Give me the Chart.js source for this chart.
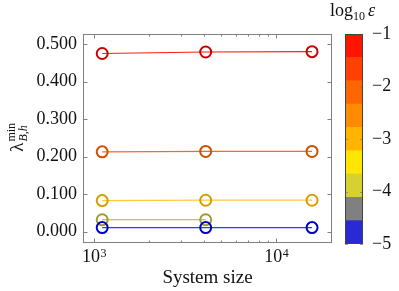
<!DOCTYPE html>
<html>
<head>
<meta charset="utf-8">
<script src="https://cdn.jsdelivr.net/npm/chart.js@4.4.1/dist/chart.umd.min.js"></script>
<style>
body { margin: 0; background: #fff; }
#wrap { position: relative; width: 399px; height: 291px; }
canvas { position: absolute; top: 0; }
</style>
</head>
<body>
<div id="wrap">
  <canvas id="main" width="399" height="291" style="left:0"></canvas>
  <canvas id="cbar" width="73" height="291" style="left:326px"></canvas>
</div>
<script>
// data
const systemSizes = [1110, 4100, 15700];
const lambdaEps1 = [0.475, 0.479, 0.480];
const lambdaEps2 = [0.213, 0.214, 0.214];
const lambdaEps3 = [0.083, 0.084, 0.084];
const lambdaEps4 = [0.032, 0.032];
const lambdaEps5 = [0.011, 0.011, 0.011];

const lineColors = ['#ff1a1a', '#ff6a1a', '#ffc840', '#b4ae2c', '#2a3cff'];
const markColors = ['#cc0000', '#d05000', '#d4a000', '#a09a28', '#0000cc'];

const yTicks = [0, 0.1, 0.2, 0.3, 0.4, 0.5];
const xTickValues = [1000, 10000];
const xTickExps = [3, 4];
const xMinorTicks = [2000, 3000, 4000, 5000, 6000, 7000, 8000, 9000, 20000];

const cbTicks = [-1, -2, -3, -4, -5];
const cbColors = ['#2a2ad4', '#808080', '#d6d030', '#ffe600', '#ffb400', '#ff8c00', '#ff6600', '#ff4000', '#ff1400'];

const FONT = '"Liberation Serif", "Times New Roman", serif';

function toPoints(vals) {
    return vals.map((v, i) => ({ x: systemSizes[i], y: v }));
}

const series = [lambdaEps1, lambdaEps2, lambdaEps3, lambdaEps4, lambdaEps5];

const frame = {
    id: 'frame',
    afterDraw(chart) {
        const { ctx, chartArea: a, scales: { x, y } } = chart;
        ctx.save();
        ctx.strokeStyle = '#808080';
        ctx.lineWidth = 1;
        ctx.strokeRect(a.left + 0.5, a.top + 0.5, a.right - a.left - 1, a.bottom - a.top - 1);

        ctx.beginPath();
        const tickX = (v, len) => {
            const px = Math.round(x.getPixelForValue(v)) + 0.5;
            ctx.moveTo(px, a.bottom); ctx.lineTo(px, a.bottom - len);
            ctx.moveTo(px, a.top); ctx.lineTo(px, a.top + len);
        };
        xMinorTicks.forEach(v => tickX(v, 2.5));
        xTickValues.forEach(v => tickX(v, 4.5));
        yTicks.forEach(v => {
            const py = Math.round(y.getPixelForValue(v)) + 0.5;
            ctx.moveTo(a.left, py); ctx.lineTo(a.left + 4.5, py);
            ctx.moveTo(a.right, py); ctx.lineTo(a.right - 4.5, py);
        });
        ctx.stroke();

        // x tick labels 10^n
        ctx.fillStyle = '#111';
        ctx.textBaseline = 'alphabetic';
        ctx.textAlign = 'left';
        xTickValues.forEach((v, i) => {
            const px = x.getPixelForValue(v);
            ctx.font = '18px ' + FONT;
            const w1 = ctx.measureText('10').width;
            ctx.font = '12px ' + FONT;
            const w2 = ctx.measureText(String(xTickExps[i])).width;
            const x0 = px - (w1 + w2) / 2;
            ctx.font = '18px ' + FONT;
            ctx.fillText('10', x0, 262);
            ctx.font = '12px ' + FONT;
            ctx.fillText(String(xTickExps[i]), x0 + w1 + 0.5, 257);
        });

        // y axis label: lambda^min_{B,h}
        ctx.translate(23, 139);
        ctx.rotate(-Math.PI / 2);
        ctx.font = '19px ' + FONT;
        const wl = ctx.measureText('λ').width;
        ctx.font = 'italic 12px ' + FONT;
        const ws = ctx.measureText('B,h').width;
        const start = -(wl + ws) / 2;
        ctx.font = '19px ' + FONT;
        ctx.fillText('λ', start, 0);
        ctx.font = '12px ' + FONT;
        ctx.fillText('min', start + wl + 1, -8);
        ctx.font = 'italic 12px ' + FONT;
        ctx.fillText('B,h', start + wl + 1, 4);
        ctx.restore();
    }
};

new Chart(document.getElementById('main'), {
    type: 'scatter',
    data: {
        datasets: series.map((vals, i) => ({
            data: toPoints(vals),
            showLine: true,
            borderColor: lineColors[i],
            borderWidth: 1.2,
            pointRadius: 5.5,
            pointBorderWidth: 2,
            pointBorderColor: markColors[i],
            pointBackgroundColor: 'rgba(0,0,0,0)'
        })).reverse()
    },
    options: {
        responsive: false,
        animation: false,
        events: [],
        layout: { padding: { left: 0, top: 34, right: 67, bottom: 0 } },
        plugins: { legend: { display: false }, tooltip: { enabled: false } },
        scales: {
            x: {
                type: 'logarithmic',
                min: 871,
                max: 20200,
                grid: { display: false, drawTicks: false, tickLength: 0 },
                border: { display: false },
                ticks: { display: false },
                afterBuildTicks: s => { s.ticks = xTickValues.map(v => ({ value: v })); },
                afterFit: s => { s.height = 48; },
                title: {
                    display: true,
                    text: 'System size',
                    color: '#111',
                    font: { family: FONT, size: 19, lineHeight: 1.2 },
                    padding: { top: 0, bottom: 2 }
                }
            },
            y: {
                min: -0.03,
                max: 0.527,
                grid: { display: false, drawTicks: false, tickLength: 0 },
                border: { display: false },
                afterBuildTicks: s => { s.ticks = yTicks.map(v => ({ value: v })); },
                afterFit: s => { s.width = 83; },
                ticks: {
                    color: '#111',
                    padding: 6,
                    font: { family: FONT, size: 18 },
                    callback: v => v.toFixed(3)
                }
            }
        }
    },
    plugins: [frame]
});

// colour bar
const cbFrame = {
    id: 'cbFrame',
    afterDraw(chart) {
        const { ctx, chartArea: a, scales: { y } } = chart;
        ctx.save();
        ctx.strokeStyle = 'rgba(128,128,128,0.8)';
        ctx.lineWidth = 1;
        ctx.beginPath();
        cbTicks.forEach(v => {
            const py = Math.round(y.getPixelForValue(v)) + 0.5;
            ctx.moveTo(a.left, py); ctx.lineTo(a.left + 3, py);
            ctx.moveTo(a.right, py); ctx.lineTo(a.right - 3, py);
        });
        ctx.stroke();
        ctx.strokeStyle = '#444';
        ctx.strokeRect(a.left + 0.5, a.top + 0.5, a.right - a.left - 1, a.bottom - a.top - 1);

        // title log10 eps
        ctx.fillStyle = '#111';
        ctx.textBaseline = 'alphabetic';
        ctx.font = '18px ' + FONT;
        ctx.fillText('log', 4, 16);
        let xp = 4 + ctx.measureText('log').width;
        ctx.font = '12px ' + FONT;
        ctx.fillText('10', xp, 20);
        xp += ctx.measureText('10').width + 3;
        ctx.font = 'italic 18px ' + FONT;
        ctx.fillText('ε', xp, 16);
        ctx.restore();
    }
};

const cbStep = (cbTicks[0] - cbTicks[cbTicks.length - 1]) / cbColors.length;
new Chart(document.getElementById('cbar'), {
    type: 'bar',
    data: {
        labels: [''],
        datasets: cbColors.map((c, i) => ({
            data: [[cbTicks[cbTicks.length - 1] + i * cbStep, cbTicks[cbTicks.length - 1] + (i + 1) * cbStep]],
            backgroundColor: c,
            borderWidth: 0,
            barPercentage: 1,
            categoryPercentage: 1,
            grouped: false
        }))
    },
    options: {
        responsive: false,
        animation: false,
        events: [],
        layout: { padding: { left: 19, top: 34, right: 0, bottom: 47 } },
        plugins: { legend: { display: false }, tooltip: { enabled: false } },
        scales: {
            x: { display: false },
            y: {
                position: 'right',
                min: -5,
                max: -1,
                grid: { display: false, drawTicks: false, tickLength: 0 },
                border: { display: false },
                afterBuildTicks: s => { s.ticks = cbTicks.map(v => ({ value: v })); },
                afterFit: s => { s.width = 36; },
                ticks: {
                    color: '#111',
                    padding: 9,
                    font: { family: FONT, size: 18 },
                    callback: v => '\u2212' + Math.abs(v)
                }
            }
        }
    },
    plugins: [cbFrame]
});
</script>
</body>
</html>
